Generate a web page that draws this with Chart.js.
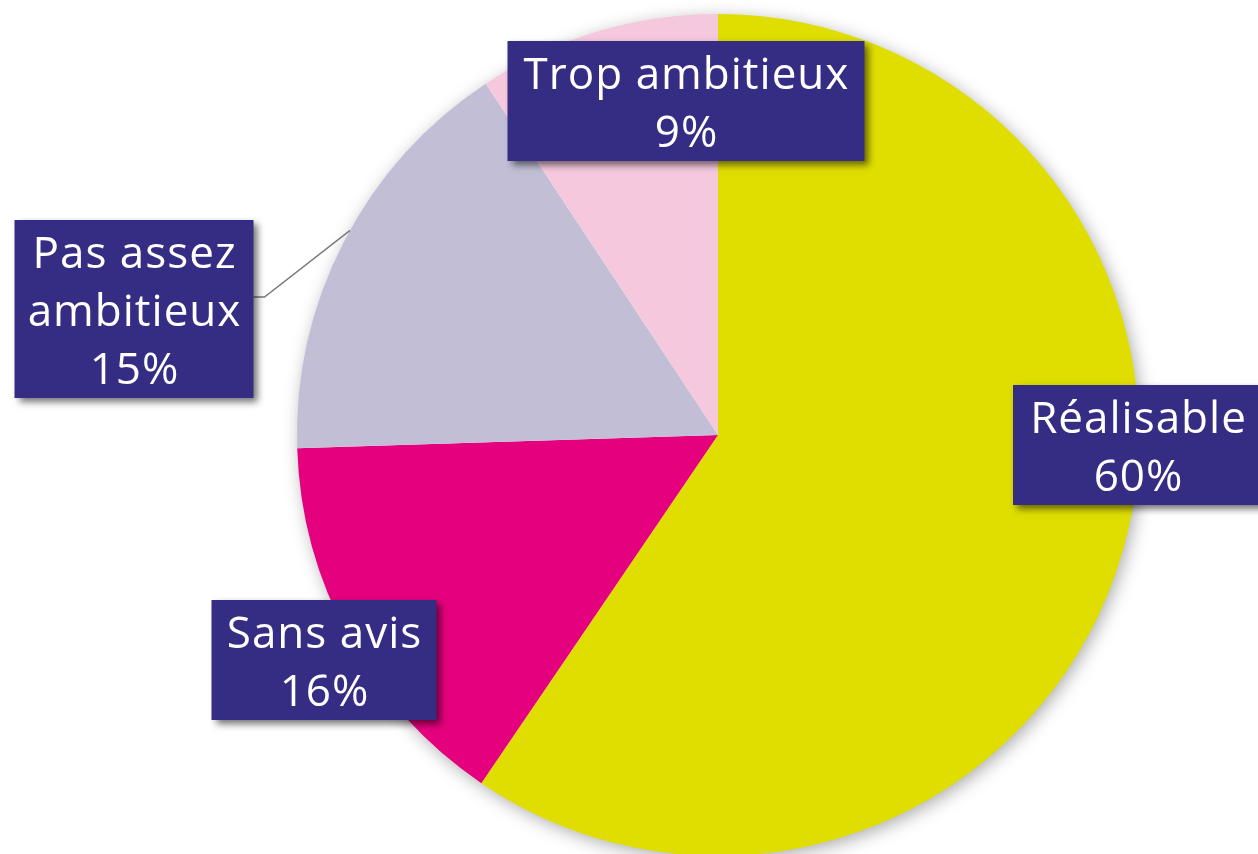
<!DOCTYPE html>
<html>
<head>
<meta charset="utf-8">
<script src="https://cdn.jsdelivr.net/npm/chart.js@4/dist/chart.umd.min.js"></script>
<style>
  html, body { margin: 0; padding: 0; background: #fff; }
  #wrap { width: 1258px; height: 854px; }
</style>
</head>
<body>
<div id="wrap"><canvas id="avisChart" width="1258" height="854"></canvas></div>
<script>
// slices, clockwise from 12 o'clock
const categories = ['Réalisable', 'Sans avis', 'Pas assez ambitieux', 'Trop ambitieux'];
const values = [59.5, 15, 16.2, 9.3];
const percentLabels = ['60%', '16%', '15%', '9%'];
const labelLines = [['Réalisable'], ['Sans avis'], ['Pas assez', 'ambitieux'], ['Trop ambitieux']];
const sliceColors = ['#dfde00', '#e5007d', '#c1bed6', '#f5c8dd'];

// label box centres relative to the pie centre, and box widths
const labelOffsets = [[420, 10], [-394, 225], [-584, -126], [-32, -334]];
const boxWidths = [250, 225, 239, 357];

const boxColor = '#352c84';

document.addEventListener("DOMContentLoaded", function () {
    const ctx = document.getElementById('avisChart').getContext('2d');

    const pieShadow = {
        id: 'pieShadow',
        beforeDatasetsDraw(chart) {
            const arc = chart.getDatasetMeta(0).data[0];
            if (!arc) return;
            const c = chart.ctx;
            c.save();
            c.shadowColor = 'rgba(0,0,0,0.35)';
            c.shadowBlur = 18;
            c.shadowOffsetX = 3;
            c.shadowOffsetY = 4;
            c.fillStyle = '#ffffff';
            c.beginPath();
            c.arc(arc.x, arc.y, arc.outerRadius - 1, 0, Math.PI * 2);
            c.fill();
            c.restore();
        }
    };

    const boxLabels = {
        id: 'boxLabels',
        afterDatasetsDraw(chart) {
            const meta = chart.getDatasetMeta(0);
            const c = chart.ctx;
            const lineH = 58;
            c.save();
            c.font = '400 44px "Open Sans", Lato, sans-serif';
            c.letterSpacing = '1px';
            c.textAlign = 'center';
            c.textBaseline = 'middle';
            meta.data.forEach(function (arc, i) {
                const lines = labelLines[i].concat([percentLabels[i]]);
                const cx = arc.x + labelOffsets[i][0];
                const cy = arc.y + labelOffsets[i][1];
                const w = boxWidths[i];
                const h = lines.length * lineH + 4;
                const left = cx - w / 2;
                const top = cy - h / 2;

                // leader line for the small left slice
                if (i === 2) {
                    const mid = (arc.startAngle + arc.endAngle) / 2 + 0.03;
                    const ex = arc.x + Math.cos(mid) * arc.outerRadius;
                    const ey = arc.y + Math.sin(mid) * arc.outerRadius;
                    c.strokeStyle = '#7a7a7a';
                    c.lineWidth = 1.5;
                    c.beginPath();
                    c.moveTo(left + w, cy - 12);
                    c.lineTo(left + w + 11, cy - 12);
                    c.lineTo(ex, ey);
                    c.stroke();
                }

                c.save();
                c.shadowColor = 'rgba(0,0,0,0.55)';
                c.shadowBlur = 7;
                c.shadowOffsetX = 4;
                c.shadowOffsetY = 4;
                c.fillStyle = boxColor;
                c.fillRect(left, top, w, h);
                c.restore();

                c.fillStyle = '#ffffff';
                lines.forEach(function (t, k) {
                    c.fillText(t, cx + 0.5, top + 2 + lineH * (k + 0.5) + 4);
                });
            });
            c.restore();
        }
    };

    new Chart(ctx, {
        type: 'pie',
        data: {
            labels: categories,
            datasets: [{
                data: values,
                backgroundColor: sliceColors,
                borderWidth: 0
            }]
        },
        options: {
            responsive: false,
            animation: false,
            radius: 421,
            layout: { padding: { left: 178, right: 0, top: 16, bottom: 0 } },
            plugins: {
                legend: { display: false },
                tooltip: { enabled: false }
            }
        },
        plugins: [pieShadow, boxLabels]
    });
});
</script>
</body>
</html>
